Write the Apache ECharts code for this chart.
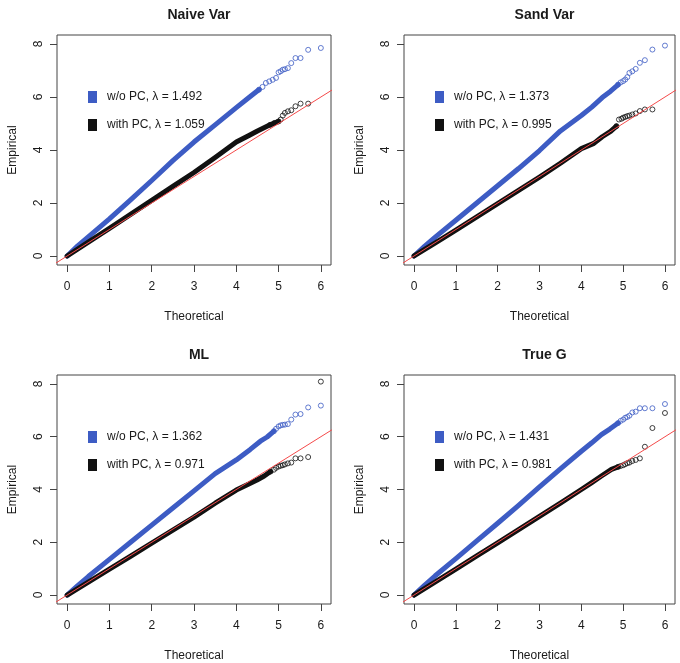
<!DOCTYPE html>
<html>
<head>
<meta charset="utf-8">
<script src="https://cdn.jsdelivr.net/npm/echarts@6/dist/echarts.min.js"></script>
<style>html,body{margin:0;padding:0;background:#fff}#c{width:680px;height:663px}</style>
</head>
<body>
<div id="c"></div>
<script>
// ---- data ----
const panelTitles = ['Naive Var', 'Sand Var', 'ML', 'True G'];
const lambdaNoPC = ['1.492', '1.373', '1.362', '1.431'];
const lambdaPC = ['1.059', '0.995', '0.971', '0.981'];
const xTicks = [0, 1, 2, 3, 4, 5, 6];
const yTicks = [0, 2, 4, 6, 8];
const refLine = [[-1, -1], [7, 7]];

// Naive Var
const naiveBlueDense = [[0,0],[0.25,0.38],[0.5,0.72],[1,1.4],[1.5,2.12],[2,2.85],[2.5,3.6],[3,4.3],[3.5,4.95],[4,5.6],[4.3,5.98],[4.54,6.28]];
const naiveBlueTail = [[4.54,6.28],[4.62,6.38],[4.70,6.53],[4.78,6.59],[4.86,6.65],[4.94,6.72],[5.0,6.93],[5.05,6.97],[5.10,7.03],[5.15,7.05],[5.22,7.09],[5.30,7.28],[5.40,7.47],[5.52,7.47],[5.70,7.78],[6.0,7.85]];
const naiveBlackDense = [[0,0],[0.5,0.52],[1,1.04],[1.5,1.57],[2,2.1],[2.5,2.63],[3,3.15],[3.5,3.72],[4,4.3],[4.3,4.55],[4.5,4.72],[4.8,4.95],[5.0,5.08]];
const naiveBlackTail = [[4.8,4.95],[4.9,5.02],[5.0,5.08],[5.05,5.15],[5.10,5.30],[5.15,5.40],[5.22,5.46],[5.30,5.50],[5.40,5.65],[5.52,5.75],[5.70,5.75]];

// Sand Var
const sandBlueDense = [[0,0],[0.25,0.36],[0.5,0.7],[1,1.35],[1.5,2.0],[2,2.65],[2.5,3.3],[3,3.98],[3.5,4.72],[4,5.3],[4.25,5.62],[4.5,5.98],[4.7,6.22],[4.88,6.47]];
const sandBlueTail = [[4.88,6.47],[4.94,6.55],[5.0,6.6],[5.05,6.66],[5.10,6.75],[5.15,6.91],[5.22,6.97],[5.30,7.06],[5.40,7.29],[5.52,7.39],[5.70,7.79],[6.0,7.94]];
const sandBlackDense = [[0,0],[0.5,0.49],[1,0.98],[1.5,1.48],[2,1.98],[2.5,2.48],[3,2.98],[3.5,3.5],[4,4.05],[4.3,4.25],[4.5,4.5],[4.7,4.7],[4.84,4.9]];
const sandBlackTail = [[4.84,4.9],[4.90,5.15],[4.96,5.18],[5.0,5.22],[5.05,5.25],[5.10,5.28],[5.15,5.30],[5.22,5.34],[5.30,5.38],[5.40,5.47],[5.52,5.53],[5.70,5.53]];

// ML
const mlBlueDense = [[0,0],[0.25,0.36],[0.5,0.7],[1,1.35],[1.5,2.0],[2,2.65],[2.5,3.3],[3,3.95],[3.5,4.6],[4,5.12],[4.33,5.52],[4.57,5.83],[4.73,5.99],[4.89,6.21]];
const mlBlueTail = [[4.89,6.21],[4.94,6.30],[5.0,6.39],[5.05,6.43],[5.10,6.45],[5.15,6.46],[5.22,6.48],[5.30,6.65],[5.40,6.84],[5.52,6.86],[5.70,7.11],[6.0,7.18]];
const mlBlackDense = [[0,0],[0.5,0.49],[1,0.98],[1.5,1.47],[2,1.97],[2.5,2.46],[3,2.95],[3.5,3.48],[4,3.98],[4.26,4.18],[4.49,4.36],[4.66,4.51],[4.81,4.68]];
const mlBlackTail = [[4.81,4.68],[4.89,4.75],[4.94,4.82],[5.0,4.87],[5.05,4.90],[5.10,4.92],[5.15,4.95],[5.22,4.99],[5.30,5.02],[5.40,5.18],[5.52,5.18],[5.70,5.23],[6.0,8.09]];

// True G
const trueBlueDense = [[0,0],[0.25,0.37],[0.5,0.72],[1,1.38],[1.5,2.05],[2,2.72],[2.5,3.4],[3,4.1],[3.5,4.78],[4,5.45],[4.25,5.77],[4.48,6.08],[4.68,6.29],[4.88,6.52]];
const trueBlueTail = [[4.88,6.52],[4.94,6.6],[5.0,6.65],[5.05,6.72],[5.10,6.75],[5.15,6.80],[5.22,6.92],[5.30,6.95],[5.40,7.08],[5.52,7.08],[5.70,7.08],[6.0,7.24]];
const trueBlackDense = [[0,0],[0.5,0.49],[1,0.98],[1.5,1.48],[2,1.98],[2.5,2.48],[3,2.98],[3.5,3.48],[4,4.0],[4.25,4.26],[4.48,4.51],[4.72,4.76],[4.88,4.86]];
const trueBlackTail = [[4.88,4.86],[4.94,4.89],[5.0,4.92],[5.05,4.96],[5.10,5.0],[5.15,5.02],[5.22,5.08],[5.30,5.12],[5.40,5.18],[5.52,5.62],[5.70,6.33],[6.0,6.90]];

const blueDense = [naiveBlueDense, sandBlueDense, mlBlueDense, trueBlueDense];
const blueTail = [naiveBlueTail, sandBlueTail, mlBlueTail, trueBlueTail];
const blackDense = [naiveBlackDense, sandBlackDense, mlBlackDense, trueBlackDense];
const blackTail = [naiveBlackTail, sandBlackTail, mlBlackTail, trueBlackTail];

// ---- layout / style ----
const FONT = '"Liberation Sans", Arial, sans-serif';
const TXT = '#1a1a1a';
const BLUE = '#3d5cc4';
const BLACK = '#111111';
const RED = '#f44a4a';
const grids = [
  {left: 57, top: 35, width: 274, height: 230},
  {left: 404, top: 35, width: 271, height: 230},
  {left: 57, top: 375, width: 274, height: 230},
  {left: 404, top: 375, width: 271, height: 230}
];

const option = {
  animation: false,
  backgroundColor: '#fff',
  textStyle: {fontFamily: FONT},
  title: [], grid: [], xAxis: [], yAxis: [], legend: [], series: []
};

grids.forEach((g, i) => {
  option.grid.push(Object.assign({show: true, borderColor: '#444', borderWidth: 1, backgroundColor: 'transparent'}, g));
  option.title.push({
    text: panelTitles[i], left: g.left + g.width / 2, top: g.top - 32, textAlign: 'center',
    textStyle: {fontFamily: FONT, fontSize: 14, fontWeight: 'bold', color: TXT}
  });
  option.xAxis.push({
    type: 'value', gridIndex: i, min: -0.24, max: 6.24, position: 'bottom',
    name: 'Theoretical', nameLocation: 'middle', nameGap: 46,
    nameTextStyle: {fontFamily: FONT, fontSize: 12, color: TXT},
    axisLine: {show: false, onZero: false},
    axisTick: {show: true, inside: false, length: 7, lineStyle: {color: '#444'}, customValues: xTicks},
    axisLabel: {fontFamily: FONT, fontSize: 12, color: TXT, margin: 16, customValues: xTicks},
    splitLine: {show: false}
  });
  option.yAxis.push({
    type: 'value', gridIndex: i, min: -0.34, max: 8.34, position: 'left',
    name: 'Empirical', nameLocation: 'middle', nameGap: 38,
    nameTextStyle: {fontFamily: FONT, fontSize: 12, color: TXT},
    axisLine: {show: false, onZero: false},
    axisTick: {show: true, inside: false, length: 7, lineStyle: {color: '#444'}, customValues: yTicks},
    axisLabel: {fontFamily: FONT, fontSize: 12, color: TXT, margin: 12, rotate: 90, customValues: yTicks},
    splitLine: {show: false}
  });
  const n1 = 'w/o PC, λ = ' + lambdaNoPC[i];
  const n2 = 'with PC, λ = ' + lambdaPC[i];
  option.legend.push({
    orient: 'vertical', left: g.left + 31, top: g.top + 56, padding: 0,
    itemWidth: 9, itemHeight: 12, itemGap: 16, selectedMode: false,
    textStyle: {fontFamily: FONT, fontSize: 12, color: TXT, padding: [0, 0, 0, 5]},
    data: [
      {name: n1, icon: 'rect', itemStyle: {color: BLUE, borderWidth: 0}},
      {name: n2, icon: 'rect', itemStyle: {color: BLACK, borderWidth: 0}}
    ]
  });
  const tailStyle = c => ({color: 'rgba(0,0,0,0)', borderColor: c, borderWidth: 1});
  option.series.push(
    {name: n1, type: 'line', xAxisIndex: i, yAxisIndex: i, data: blueDense[i], symbol: 'none',
     color: BLUE, lineStyle: {color: BLUE, width: 5, cap: 'round', join: 'round'}, silent: true},
    {name: n1 + ' tail', type: 'scatter', xAxisIndex: i, yAxisIndex: i, data: blueTail[i],
     symbol: 'circle', symbolSize: 5, itemStyle: tailStyle(BLUE), silent: true},
    {name: n2, type: 'line', xAxisIndex: i, yAxisIndex: i, data: blackDense[i], symbol: 'none',
     color: BLACK, lineStyle: {color: BLACK, width: 5, cap: 'round', join: 'round'}, silent: true},
    {name: n2 + ' tail', type: 'scatter', xAxisIndex: i, yAxisIndex: i, data: blackTail[i],
     symbol: 'circle', symbolSize: 5, itemStyle: tailStyle(BLACK), silent: true},
    {name: 'ref' + i, type: 'line', xAxisIndex: i, yAxisIndex: i, data: refLine, symbol: 'none',
     clip: true, lineStyle: {color: RED, width: 1}, silent: true, z: 5}
  );
});

const chart = echarts.init(document.getElementById('c'), null, {renderer: 'canvas'});
chart.setOption(option);
</script>
</body>
</html>
